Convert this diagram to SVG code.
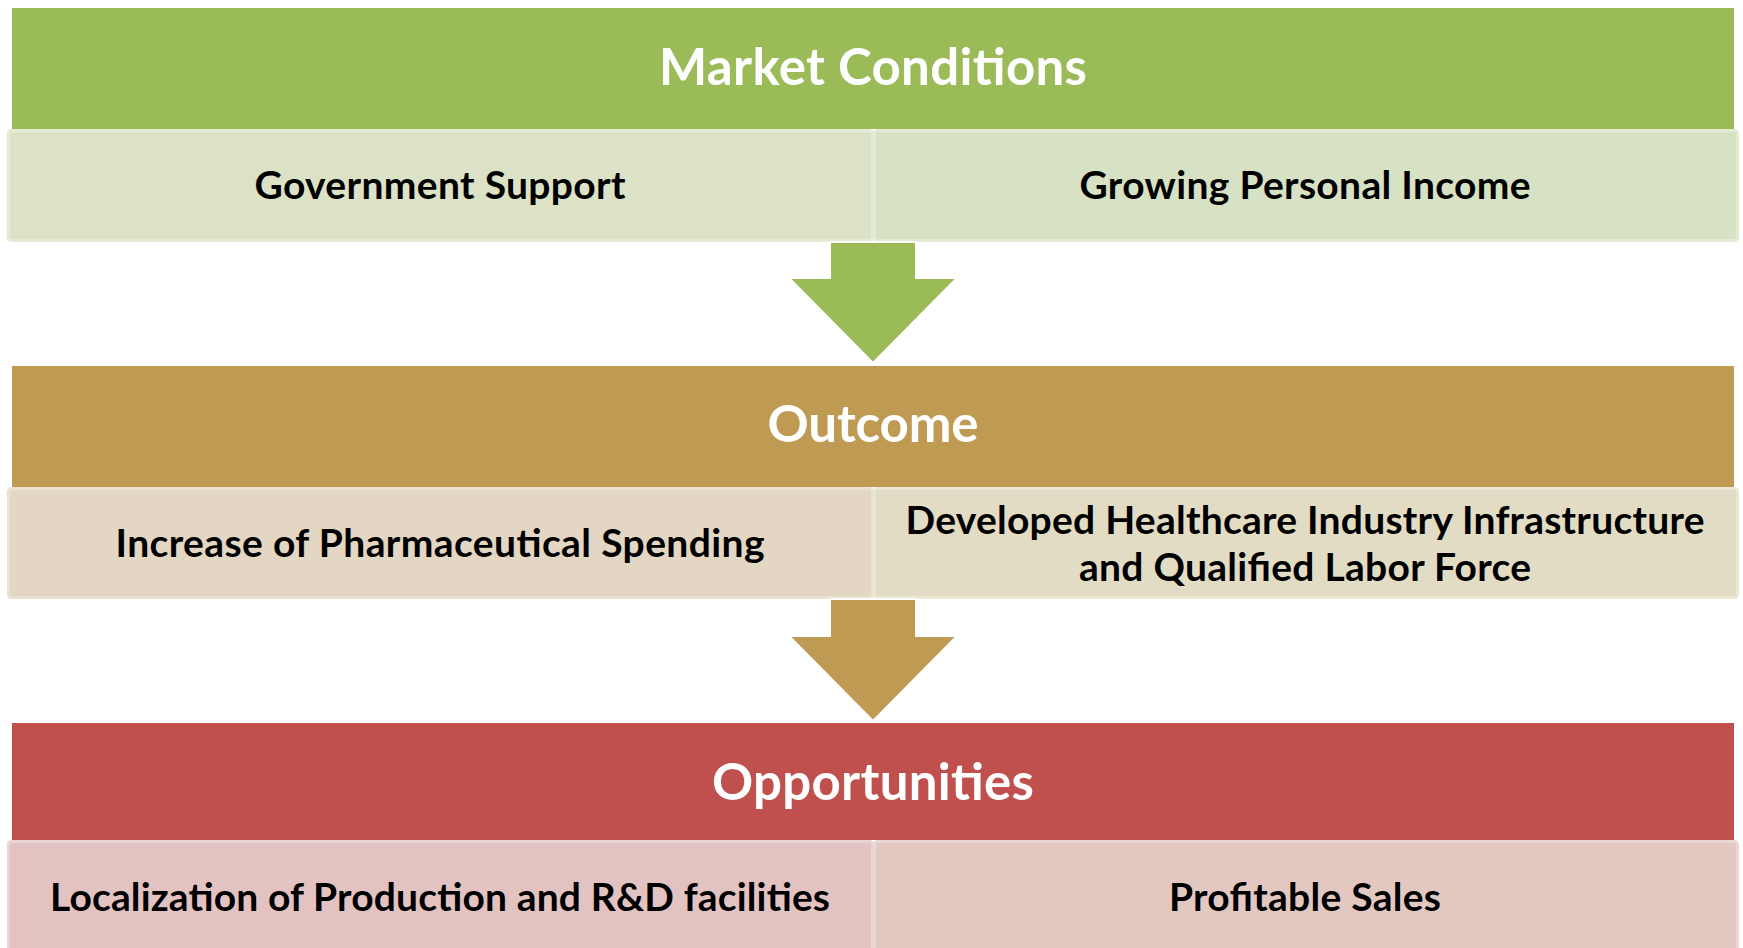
<svg xmlns="http://www.w3.org/2000/svg" width="1743" height="948" viewBox="0 0 1743 948">
<style>
.hdr{font-family:Lato,"Liberation Sans",sans-serif;font-weight:bold;font-size:51px;fill:#ffffff;text-anchor:middle}
.sub{font-family:Lato,"Liberation Sans",sans-serif;font-weight:bold;font-size:39px;fill:#000000;text-anchor:middle}
.arrow{stroke:#ffffff;stroke-width:2;stroke-linejoin:round}
</style>
<rect width="1743" height="948" fill="#ffffff"/>
<g id="market-conditions">
<rect x="12" y="8" width="1722" height="121" fill="#9BBB59"/>
<text class="hdr" x="873" y="85" textLength="428">Market Conditions</text>
</g>
<g id="government-support">
<rect x="8.5" y="130.5" width="864" height="110" rx="3" fill="#DCE2C6" stroke="#E5EAD7" stroke-width="3"/>
<text class="sub" x="440" y="199" textLength="371">Government Support</text>
</g>
<g id="growing-personal-income">
<rect x="874.5" y="130.5" width="863" height="110" rx="3" fill="#D7E2C4" stroke="#E3EAD6" stroke-width="3"/>
<text class="sub" x="1305" y="199" textLength="451">Growing Personal Income</text>
</g>
<g id="outcome">
<rect x="12" y="366" width="1722" height="121" fill="#BE9A52"/>
<text class="hdr" x="873" y="442" textLength="211">Outcome</text>
</g>
<g id="increase-spending">
<rect x="8.5" y="488.5" width="864" height="109" rx="3" fill="#E3D6C3" stroke="#EAE1D3" stroke-width="3"/>
<text class="sub" x="440" y="557" textLength="649">Increase of Pharmaceutical Spending</text>
</g>
<g id="developed-healthcare">
<rect x="874.5" y="488.5" width="863" height="109" rx="3" fill="#E2DCC4" stroke="#EAE6D4" stroke-width="3"/>
<text class="sub" x="1305" y="534" textLength="799">Developed Healthcare Industry Infrastructure</text>
<text class="sub" x="1305" y="581" textLength="452">and Qualified Labor Force</text>
</g>
<g id="opportunities">
<rect x="12" y="723" width="1722" height="117" fill="#C0504D"/>
<text class="hdr" x="873" y="800" textLength="322">Opportunities</text>
</g>
<g id="localization">
<rect x="8.5" y="841.5" width="864" height="115" rx="3" fill="#E3C3C2" stroke="#EAD3D2" stroke-width="3"/>
<text class="sub" x="440" y="911" textLength="780">Localization of Production and R&amp;D facilities</text>
</g>
<g id="profitable-sales">
<rect x="874.5" y="841.5" width="863" height="115" rx="3" fill="#E3C8C2" stroke="#EAD7D3" stroke-width="3"/>
<text class="sub" x="1305" y="911" textLength="272">Profitable Sales</text>
</g>
<g id="connectors">
<path class="arrow" fill="#9BBB59" d="M830,242 L916,242 L916,278 L957,278 L873,363 L789,278 L830,278 Z"/>
<path class="arrow" fill="#BE9A52" d="M830,599 L916,599 L916,636 L957,636 L873,721 L789,636 L830,636 Z"/>
</g>
</svg>
